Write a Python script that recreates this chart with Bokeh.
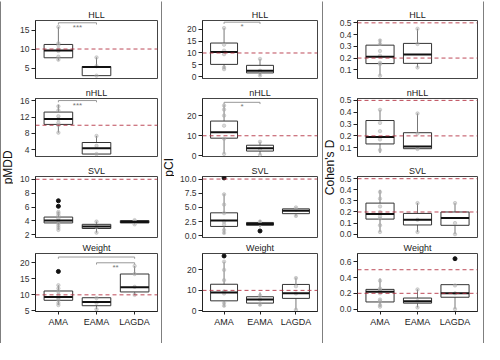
from math import pi
from bokeh.plotting import figure
from bokeh.layouts import row, column
from bokeh.models import Range1d, FixedTicker, PrintfTickFormatter, Span, Label
from bokeh.embed import file_html
from bokeh.resources import INLINE

groups = ["AMA", "EAMA", "LAGDA"]
panels = ["HLL", "nHLL", "SVL", "Weight"]
metrics = ["pMDD", "pCI", "Cohen's D"]

# five-number summaries per group: [lower whisker, q1, median, q3, upper whisker]
# ---------------- pMDD ----------------
pmdd_hll_box = {"AMA": [7.0, 7.7, 9.6, 11.2, 15.8], "EAMA": [3.0, 3.0, 5.3, 5.4, 7.8]}
pmdd_hll_pts = {"AMA": [7.2, 8.0, 9.5, 10.0, 11.0, 11.5, 15.8], "EAMA": [3.0, 5.5, 7.8]}
pmdd_hll_out = {}
pmdd_hll_sig = [("AMA", "EAMA", 16.9, "***")]

pmdd_nhll_box = {"AMA": [8.2, 10.2, 11.5, 13.2, 15.0], "EAMA": [3.0, 3.0, 4.4, 5.8, 7.4]}
pmdd_nhll_pts = {"AMA": [8.2, 10.0, 10.6, 11.5, 12.2, 13.6, 14.6], "EAMA": [3.0, 5.0, 7.4]}
pmdd_nhll_out = {}
pmdd_nhll_sig = [("AMA", "EAMA", 16.0, "***")]

pmdd_svl_box = {"AMA": [2.7, 3.7, 4.05, 4.55, 5.3], "EAMA": [2.3, 2.9, 3.2, 3.5, 3.9],
                "LAGDA": [3.5, 3.7, 3.85, 4.05, 4.1]}
pmdd_svl_pts = {"AMA": [2.7, 3.0, 3.3, 3.6, 4.0, 4.3, 4.8, 5.1, 5.3], "EAMA": [2.3, 3.1, 3.9],
                "LAGDA": [3.5, 3.9, 4.1]}
pmdd_svl_out = {"AMA": [6.1, 6.9]}
pmdd_svl_sig = []

pmdd_weight_box = {"AMA": [6.8, 8.3, 9.3, 11.2, 13.0], "EAMA": [5.5, 6.6, 7.8, 9.1, 9.1],
                   "LAGDA": [10.0, 10.9, 12.4, 16.5, 19.0]}
pmdd_weight_pts = {"AMA": [6.8, 7.5, 8.5, 9.0, 10.0, 11.0, 12.0, 13.0], "EAMA": [5.5, 7.5, 9.0],
                   "LAGDA": [10.0, 12.5, 16.5, 19.0]}
pmdd_weight_out = {"AMA": [17.3]}
pmdd_weight_sig = [("AMA", "LAGDA", 21.8, ""), ("EAMA", "LAGDA", 20.0, "**")]

# ---------------- pCI ----------------
pci_hll_box = {"AMA": [3.2, 5.2, 10.4, 14.2, 20.5], "EAMA": [0.3, 1.6, 2.5, 4.8, 7.5]}
pci_hll_pts = {"AMA": [3.2, 4.0, 9.5, 11.0, 13.5, 20.5], "EAMA": [0.5, 2.5, 7.5]}
pci_hll_out = {}
pci_hll_sig = [("AMA", "EAMA", 23.0, "*")]

pci_nhll_box = {"AMA": [1.0, 8.8, 11.8, 17.3, 25.5], "EAMA": [0.5, 2.4, 3.8, 5.3, 7.0]}
pci_nhll_pts = {"AMA": [1.0, 8.5, 15.0, 20.0, 23.0, 25.0], "EAMA": [0.5, 3.5, 7.0]}
pci_nhll_out = {}
pci_nhll_sig = [("AMA", "EAMA", 26.6, "*")]

pci_svl_box = {"AMA": [0.3, 1.65, 2.7, 4.05, 7.4], "EAMA": [1.5, 1.85, 2.1, 2.35, 2.8],
               "LAGDA": [3.4, 3.9, 4.4, 4.75, 5.0]}
pci_svl_pts = {"AMA": [0.5, 1.0, 2.0, 2.5, 4.0, 5.5, 7.3], "EAMA": [2.1, 2.5],
               "LAGDA": [3.5, 4.6, 5.0]}
pci_svl_out = {"AMA": [10.2], "EAMA": [0.85]}
pci_svl_sig = []

pci_weight_box = {"AMA": [2.0, 4.9, 9.0, 13.0, 24.0], "EAMA": [2.5, 3.8, 5.5, 6.9, 9.0],
                  "LAGDA": [0.5, 6.1, 8.6, 12.9, 16.3]}
pci_weight_pts = {"AMA": [2.5, 4.0, 8.5, 9.5, 15.0, 20.0, 24.0], "EAMA": [3.0, 5.5, 7.5],
                  "LAGDA": [0.5, 8.5, 12.0, 16.0]}
pci_weight_out = {"AMA": [26.8]}
pci_weight_sig = []

# ---------------- Cohen's D ----------------
cohen_hll_box = {"AMA": [0.05, 0.153, 0.212, 0.31, 0.36], "EAMA": [0.12, 0.155, 0.23, 0.325, 0.45]}
cohen_hll_pts = {"AMA": [0.05, 0.15, 0.16, 0.22, 0.26, 0.32, 0.35], "EAMA": [0.12, 0.32, 0.45]}
cohen_hll_out = {}
cohen_hll_sig = []

cohen_nhll_box = {"AMA": [0.055, 0.132, 0.19, 0.33, 0.42], "EAMA": [0.09, 0.092, 0.11, 0.227, 0.39]}
cohen_nhll_pts = {"AMA": [0.08, 0.17, 0.24, 0.31, 0.42], "EAMA": [0.09, 0.22, 0.39]}
cohen_nhll_out = {}
cohen_nhll_sig = []

cohen_svl_box = {"AMA": [0.02, 0.136, 0.182, 0.28, 0.40], "EAMA": [0.02, 0.083, 0.13, 0.187, 0.28],
                 "LAGDA": [0.0, 0.08, 0.145, 0.2, 0.28]}
cohen_svl_pts = {"AMA": [0.02, 0.08, 0.14, 0.16, 0.2, 0.25, 0.32, 0.38], "EAMA": [0.02, 0.13, 0.28],
                 "LAGDA": [0.0, 0.1, 0.28]}
cohen_svl_out = {}
cohen_svl_sig = []

cohen_weight_box = {"AMA": [0.03, 0.09, 0.22, 0.25, 0.39], "EAMA": [0.02, 0.075, 0.1, 0.14, 0.25],
                    "LAGDA": [0.0, 0.15, 0.2, 0.31, 0.31]}
cohen_weight_pts = {"AMA": [0.03, 0.05, 0.1, 0.12, 0.2, 0.24, 0.26, 0.36], "EAMA": [0.02, 0.1, 0.25],
                    "LAGDA": [0.0, 0.2, 0.3]}
cohen_weight_out = {"LAGDA": [0.64]}
cohen_weight_sig = []

# axis limits, ticks and reference lines
pmdd_ylim = [(2.25, 17.5), (2.4, 16.5), (1.6, 10.4), (4.8, 22.9)]
pmdd_ticks = [[5, 10, 15], [4, 8, 12, 16], [2, 4, 6, 8, 10], [5, 10, 15, 20]]
pmdd_ref = [10]

pci_ylim = [(-0.75, 23.7), (-0.3, 28.5), (-0.3, 10.45), (-0.3, 28.0)]
pci_ticks = [[0, 5, 10, 15, 20], [0, 10, 20], [0.0, 2.5, 5.0, 7.5, 10.0], [0, 10, 20]]
pci_ref = [10]

cohen_ylim = [(0.026, 0.52), (0.026, 0.516), (-0.03, 0.52), (-0.03125, 0.70625)]
cohen_ticks = [[0.1, 0.2, 0.3, 0.4, 0.5], [0.1, 0.2, 0.3, 0.4, 0.5],
               [0.0, 0.1, 0.2, 0.3, 0.4, 0.5], [0.0, 0.2, 0.4, 0.6]]
cohen_ref = [0.2, 0.5]

columns_data = [
    ("pMDD", pmdd_ylim, pmdd_ticks, pmdd_ref, [None, None, None, None],
     [(pmdd_hll_box, pmdd_hll_pts, pmdd_hll_out, pmdd_hll_sig),
      (pmdd_nhll_box, pmdd_nhll_pts, pmdd_nhll_out, pmdd_nhll_sig),
      (pmdd_svl_box, pmdd_svl_pts, pmdd_svl_out, pmdd_svl_sig),
      (pmdd_weight_box, pmdd_weight_pts, pmdd_weight_out, pmdd_weight_sig)]),
    ("pCI", pci_ylim, pci_ticks, pci_ref, [None, None, "%.1f", None],
     [(pci_hll_box, pci_hll_pts, pci_hll_out, pci_hll_sig),
      (pci_nhll_box, pci_nhll_pts, pci_nhll_out, pci_nhll_sig),
      (pci_svl_box, pci_svl_pts, pci_svl_out, pci_svl_sig),
      (pci_weight_box, pci_weight_pts, pci_weight_out, pci_weight_sig)]),
    ("Cohen's D", cohen_ylim, cohen_ticks, cohen_ref, ["%.1f"] * 4,
     [(cohen_hll_box, cohen_hll_pts, cohen_hll_out, cohen_hll_sig),
      (cohen_nhll_box, cohen_nhll_pts, cohen_nhll_out, cohen_nhll_sig),
      (cohen_svl_box, cohen_svl_pts, cohen_svl_out, cohen_svl_sig),
      (cohen_weight_box, cohen_weight_pts, cohen_weight_out, cohen_weight_sig)]),
]

# ---------------- layout constants ----------------
FONT = "Liberation Sans"
COL_W = 160
LAB_W = 12
PAN_W = COL_W - LAB_W
PAN_H = [82, 78, 79, 103]
PAN_TOP = [19, 15, 15, 12]
PAN_BOT = [5, 5, 3, 32]
COL_LEFT = [22, 28, 22]
COL_RIGHT = [4, 5, 6]
BOX_HALF = 0.375
REF_COLOR = "#B22A3C"
xpos = {g: i + 1 for i, g in enumerate(groups)}


def build_panel(ci, pi_, name, data, ylim, ticks, fmt, refs):
    box, pts, out, sig = data
    last = pi_ == 3
    p = figure(width=PAN_W, height=PAN_H[pi_], x_range=Range1d(0.4, 3.6), y_range=Range1d(*ylim),
               output_backend="svg", toolbar_location=None, title=name,
               x_axis_location="below" if last else None, y_axis_location="left",
               min_border_left=COL_LEFT[ci], min_border_right=COL_RIGHT[ci],
               min_border_top=PAN_TOP[pi_], min_border_bottom=PAN_BOT[pi_],
               background_fill_color="white", border_fill_color="white",
               outline_line_color="#444")
    p.title.align = "center"
    p.title.vertical_align = "bottom"
    p.title.text_font = FONT
    p.title.text_font_size = "9px"
    p.title.text_font_style = "normal"
    p.title.text_color = "#222"
    p.title.standoff = 1
    p.grid.visible = False

    ax = p.yaxis[0]
    ax.ticker = FixedTicker(ticks=ticks)
    if fmt:
        ax.formatter = PrintfTickFormatter(format=fmt)
    ax.major_label_text_font = FONT
    ax.major_label_text_font_size = "8.5px"
    ax.major_label_text_color = "#333"
    ax.major_tick_out = 4
    ax.major_tick_in = 0
    ax.minor_tick_line_color = None
    ax.axis_line_color = "#222"
    ax.major_tick_line_color = "#222"
    ax.major_label_standoff = 2

    if last:
        xa = p.xaxis[0]
        xa.ticker = FixedTicker(ticks=[xpos[g] for g in groups])
        xa.major_label_overrides = {xpos[g]: g for g in groups}
        xa.major_label_text_font = FONT
        xa.major_label_text_font_size = "9px"
        xa.major_label_text_color = "#222"
        xa.major_tick_out = 3
        xa.major_tick_in = 0
        xa.minor_tick_line_color = None
        xa.axis_line_color = "#222"
        xa.major_tick_line_color = "#222"
        xa.major_label_standoff = 2

    for r in refs:
        p.add_layout(Span(location=r, dimension="width", line_color=REF_COLOR,
                          line_dash="4 3", line_width=1, line_alpha=0.85))

    gs = [g for g in groups if g in box]
    xs = [xpos[g] for g in gs]
    lo = [box[g][0] for g in gs]
    q1 = [box[g][1] for g in gs]
    md = [box[g][2] for g in gs]
    q3 = [box[g][3] for g in gs]
    hi = [box[g][4] for g in gs]
    # whiskers
    p.segment(x0=xs, y0=lo, x1=xs, y1=q1, line_color="#777", line_width=1)
    p.segment(x0=xs, y0=q3, x1=xs, y1=hi, line_color="#777", line_width=1)
    # boxes
    p.quad(left=[x - BOX_HALF for x in xs], right=[x + BOX_HALF for x in xs],
           bottom=q1, top=q3, fill_alpha=0, line_color="#333", line_width=1)
    # sample points
    px, py = [], []
    for g in gs:
        for v in pts.get(g, []):
            px.append(xpos[g])
            py.append(v)
    p.scatter(x=px, y=py, size=3.5, fill_color="#aaaaaa", line_color="#aaaaaa", alpha=0.45)
    # medians
    p.segment(x0=[x - BOX_HALF for x in xs], x1=[x + BOX_HALF for x in xs], y0=md, y1=md,
              line_color="#111", line_width=2)
    # outliers
    ox, oy = [], []
    for g, vals in out.items():
        for v in vals:
            ox.append(xpos[g])
            oy.append(v)
    if ox:
        p.scatter(x=ox, y=oy, size=4, fill_color="#111", line_color="#111")
    # significance brackets
    tip = 0.03 * (ylim[1] - ylim[0])
    for g1, g2, yv, lab in sig:
        x1, x2 = xpos[g1], xpos[g2]
        p.line(x=[x1, x1, x2, x2], y=[yv - tip, yv, yv, yv - tip], line_color="#999", line_width=1)
        if lab:
            p.add_layout(Label(x=(x1 + x2) / 2, y=yv, text=lab, text_align="center",
                               text_baseline="top", text_font=FONT, text_font_size="8px",
                               text_color="#777"))
    return p


def bar(w, h):
    b = figure(width=w, height=h, min_border=0, toolbar_location=None, output_backend="svg",
               x_axis_location=None, y_axis_location=None, outline_line_color=None,
               background_fill_color="black", border_fill_color="black")
    b.grid.visible = False
    return b


def ylabel_fig(text):
    f = figure(width=LAB_W, height=sum(PAN_H), x_range=Range1d(0, 1), y_range=Range1d(0, 1),
               min_border=0, toolbar_location=None, output_backend="svg",
               x_axis_location=None, y_axis_location=None, outline_line_color=None,
               background_fill_color="white", border_fill_color="white")
    f.grid.visible = False
    f.add_layout(Label(x=0.5, y=0.515, text=text, angle=pi / 2, text_align="center",
                       text_baseline="middle", text_font=FONT, text_font_size="12px",
                       text_color="#111"))
    return f


cols = []
for ci, (mname, ylims, ticks, refs, fmts, pdata) in enumerate(columns_data):
    figs = [build_panel(ci, k, panels[k], pdata[k], ylims[k], ticks[k], fmts[k], refs)
            for k in range(4)]
    cols.append(row(ylabel_fig(mname), column(*figs)))

H = sum(PAN_H)
mid = row(bar(1, H), cols[0], bar(1, H), cols[1], bar(1, H), cols[2], bar(1, H))
TOT_W = 4 + 3 * COL_W
p = column(bar(TOT_W, 1), mid, bar(TOT_W, 1))

open("out.html", "w").write(file_html(p, INLINE))
